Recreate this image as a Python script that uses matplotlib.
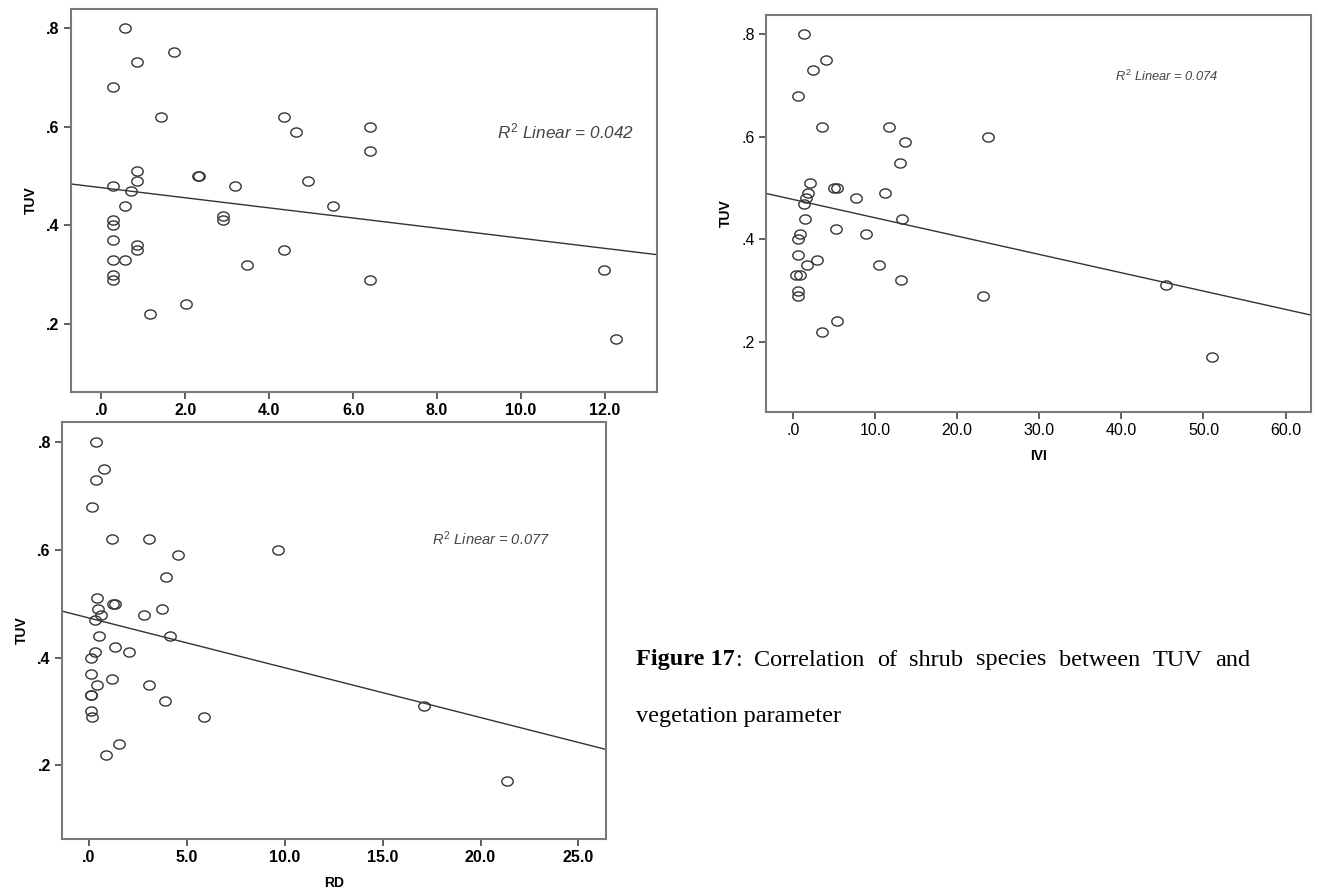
import numpy as np
import matplotlib.pyplot as plt
from matplotlib.path import Path
from matplotlib.ticker import FuncFormatter

# TUV against three vegetation parameters
x_top = [0.56, 1.73, 0.85, 0.27, 1.43, 4.35, 4.64, 6.41, 6.41, 0.85,
         0.85, 0.27, 2.30, 2.33, 3.19, 4.93, 0.70, 0.56, 5.53, 0.27,
         0.27, 2.89, 2.89, 0.27, 0.85, 0.85, 4.35, 0.27, 0.56, 3.47,
         0.27, 0.27, 6.41, 11.97, 12.26, 2.02, 1.15]
tuv_top = [0.80, 0.75, 0.73, 0.68, 0.62, 0.62, 0.59, 0.60, 0.55, 0.51,
           0.49, 0.48, 0.50, 0.50, 0.48, 0.49, 0.47, 0.44, 0.44, 0.41,
           0.40, 0.42, 0.41, 0.37, 0.36, 0.35, 0.35, 0.33, 0.33, 0.32,
           0.30, 0.29, 0.29, 0.31, 0.17, 0.24, 0.22]

ivi = [1.3, 4.0, 2.45, 0.67, 3.5, 11.7, 13.7, 23.8, 13.1, 2.07,
       5.05, 5.4, 1.88, 11.2, 1.6, 7.74, 1.4, 1.44, 13.3, 5.24,
       0.82, 8.85, 0.58, 0.63, 2.98, 1.68, 10.5, 0.43, 0.82, 13.2,
       0.67, 0.63, 23.2, 45.4, 51.1, 5.34, 3.56]
tuv_ivi = [0.80, 0.75, 0.73, 0.68, 0.62, 0.62, 0.59, 0.60, 0.55, 0.51,
           0.50, 0.50, 0.49, 0.49, 0.48, 0.48, 0.47, 0.44, 0.44, 0.42,
           0.41, 0.41, 0.40, 0.37, 0.36, 0.35, 0.35, 0.33, 0.33, 0.32,
           0.30, 0.29, 0.29, 0.31, 0.17, 0.24, 0.22]

rd = [0.39, 0.77, 0.39, 0.17, 1.18, 3.09, 4.53, 9.66, 3.93, 0.43,
      1.25, 1.32, 0.47, 3.74, 0.64, 2.84, 0.30, 0.52, 4.15, 1.33,
      0.34, 2.04, 0.11, 0.11, 1.20, 0.43, 3.07, 0.09, 0.13, 3.89,
      0.11, 0.15, 5.88, 17.1, 21.35, 1.52, 0.90]
tuv_rd = [0.80, 0.75, 0.73, 0.68, 0.62, 0.62, 0.59, 0.60, 0.55, 0.51,
          0.50, 0.50, 0.49, 0.49, 0.48, 0.48, 0.47, 0.44, 0.44, 0.42,
          0.41, 0.41, 0.40, 0.37, 0.36, 0.35, 0.35, 0.33, 0.33, 0.32,
          0.30, 0.29, 0.29, 0.31, 0.17, 0.24, 0.22]

r2_labels = ["0.042", "0.074", "0.077"]
caption_words = ["Figure 17", "Correlation", "of", "shrub", "species",
                 "between", "TUV", "and"]
caption_line2 = "vegetation parameter"

plt.rcParams["font.family"] = ["Liberation Sans", "DejaVu Sans"]
plt.rcParams["mathtext.fontset"] = "custom"
plt.rcParams["mathtext.it"] = "Liberation Sans:italic"
plt.rcParams["mathtext.rm"] = "Liberation Sans"

# SPSS circles come out a bit squashed in the source image
t = np.linspace(0, 2 * np.pi, 40)
ellipse = Path(np.column_stack([1.25 * np.cos(t), np.sin(t)]), closed=True)


def y_fmt(v, _):
    return f"{v:.1f}".lstrip("0")


def x_fmt(v, _):
    s = f"{v:.1f}"
    return s[1:] if s.startswith("0") else s


def scatter_panel(ax, x, y, xlim, xticks, r2, r2_pos, r2_size, xlabel=None,
                  weight="bold"):
    ax.plot(x, y, linestyle="none", marker=ellipse, markersize=8.2,
            markerfacecolor="none", markeredgecolor="#333333",
            markeredgewidth=1.0)
    slope, icpt = np.polyfit(x, y, 1)
    xs = np.array(xlim)
    ax.plot(xs, icpt + slope * xs, color="#333333", linewidth=1.0)
    ax.set_xlim(*xlim)
    ax.set_ylim(0.063, 0.838)
    ax.set_xticks(xticks)
    ax.set_yticks([0.2, 0.4, 0.6, 0.8])
    ax.xaxis.set_major_formatter(FuncFormatter(x_fmt))
    ax.yaxis.set_major_formatter(FuncFormatter(y_fmt))
    for side in ["top", "right", "left", "bottom"]:
        ax.spines[side].set_color("#7a7a7a")
        ax.spines[side].set_linewidth(1.5)
    ax.tick_params(length=5, width=1.2, color="#444444", pad=3,
                   labelsize=11.5)
    for lab in ax.get_xticklabels() + ax.get_yticklabels():
        lab.set_fontweight(weight)
    ax.set_ylabel("TUV", fontsize=10, fontweight="bold", labelpad=6)
    if xlabel:
        ax.set_xlabel(xlabel, fontsize=10, fontweight="bold", labelpad=8)
    ax.text(*r2_pos, r"$R^2$ Linear = " + r2, fontsize=r2_size,
            style="italic", color="#444444", ha="left", va="center")


fig = plt.figure(figsize=(13.18, 8.88), dpi=100)

ax1 = fig.add_axes([0.0536, 0.5586, 0.4448, 0.4313])
scatter_panel(ax1, x_top, tuv_top, (-0.73, 13.24),
              [0, 2, 4, 6, 8, 10, 12], r2_labels[0], (9.44, 0.591), 12.3)

ax2 = fig.add_axes([0.5812, 0.5360, 0.4135, 0.4471])
scatter_panel(ax2, ivi, tuv_ivi, (-3.27, 63.1),
              [0, 10, 20, 30, 40, 50, 60], r2_labels[1], (39.2, 0.718), 9.3,
              xlabel="IVI", weight="normal")

ax3 = fig.add_axes([0.0470, 0.0552, 0.4127, 0.4696])
scatter_panel(ax3, rd, tuv_rd, (-1.37, 26.4),
              [0, 5, 10, 15, 20, 25], r2_labels[2], (17.5, 0.622), 10.5,
              xlabel="RD")

# caption: first line justified between x=636 and x=1250 px
cap_font = ["Liberation Serif", "DejaVu Serif"]
cap_size = 17.5
line_left, line_right = 636, 1250
fig.canvas.draw()
renderer = fig.canvas.get_renderer()
words = []
for i, w in enumerate(caption_words):
    tw = fig.text(0, 1 - 660 / 888, w, family=cap_font, fontsize=cap_size,
                  fontweight="bold" if i == 0 else "normal", va="center")
    words.append(tw)
colon = fig.text(0, 1 - 660 / 888, ":", family=cap_font, fontsize=cap_size,
                 va="center")
widths = [tw.get_window_extent(renderer).width for tw in words]
colon_w = colon.get_window_extent(renderer).width
gap = (line_right - line_left - sum(widths) - colon_w) / (len(words) - 1)
xpos = line_left
for i, tw in enumerate(words):
    tw.set_x(xpos / 1318)
    xpos += widths[i]
    if i == 0:
        colon.set_x(xpos / 1318)
        xpos += colon_w
    xpos += gap
fig.text(line_left / 1318, 1 - 716 / 888, caption_line2, family=cap_font,
         fontsize=cap_size, va="center")

fig.savefig("out.png", dpi=100)
